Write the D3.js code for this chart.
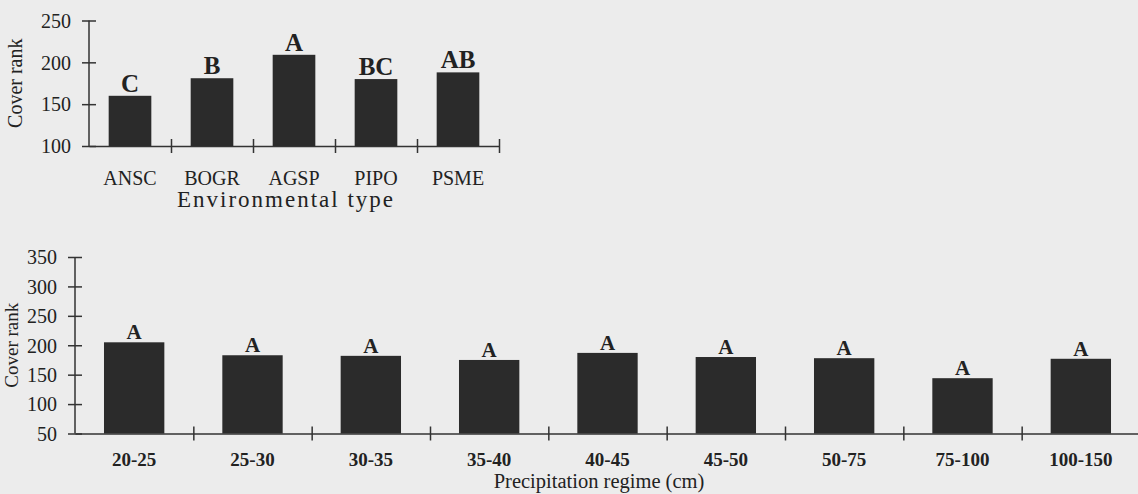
<!DOCTYPE html>
<html>
<head>
<meta charset="utf-8">
<script src="https://cdn.jsdelivr.net/npm/d3@7"></script>
<style>
  body { margin: 0; background: #ececec; }
  svg text { font-family: "Liberation Serif", "Times New Roman", serif; fill: #222; }
  .domain, .tick line { stroke: #333; stroke-width: 1.5; }
</style>
</head>
<body>
<div id="chart"></div>
<script>
// top panel: cover rank by environmental type
var envTypes = ["ANSC", "BOGR", "AGSP", "PIPO", "PSME"];
var envCover = [160, 181, 209, 180, 188];
var envLetters = ["C", "B", "A", "BC", "AB"];
var envTicks = [100, 150, 200, 250];

// bottom panel: cover rank by precipitation regime
var precipRegimes = ["20-25", "25-30", "30-35", "35-40", "40-45", "45-50", "50-75", "75-100", "100-150"];
var precipCover = [205, 183, 182, 175, 187, 180, 178, 144, 177];
var precipLetters = ["A", "A", "A", "A", "A", "A", "A", "A", "A"];
var precipTicks = [50, 100, 150, 200, 250, 300, 350];

var width = 1138, height = 494;

var svg = d3.select("#chart").append("svg")
    .attr("width", width)
    .attr("height", height);

svg.append("rect")
    .attr("width", width)
    .attr("height", height)
    .attr("fill", "#ececec");

drawPanel({
    cats: envTypes, values: envCover, letters: envLetters, ticks: envTicks,
    x0: 89, x1: 499, yTop: 20.5, yBase: 146, domain: [100, 250],
    padInner: 0.48, tickFont: 20, catFont: 20, catWeight: "normal", catY: 39,
    letterFont: 25, letterGap: 4, yLabelX: 22, yLabelFont: 20,
    title: "Environmental type", titleX: 286, titleY: 207, titleFont: 23, titleSpacing: 2
});

drawPanel({
    cats: precipRegimes, values: precipCover, letters: precipLetters, ticks: precipTicks,
    x0: 75, x1: 1140, yTop: 257, yBase: 433.5, domain: [50, 350],
    padInner: 0.49, tickFont: 20, catFont: 19, catWeight: "bold", catY: 32,
    letterFont: 21, letterGap: 3, yLabelX: 18, yLabelFont: 19,
    title: "Precipitation regime (cm)", titleX: 599, titleY: 488, titleFont: 20.5, titleSpacing: 0
});

function drawPanel(p) {
    var x = d3.scaleBand()
        .domain(p.cats)
        .range([p.x0, p.x1])
        .paddingInner(p.padInner)
        .paddingOuter(p.padInner / 2);

    var xEdge = d3.scaleLinear()
        .domain([0, p.cats.length])
        .range([p.x0, p.x1]);

    var y = d3.scaleLinear()
        .domain(p.domain)
        .range([p.yBase, p.yTop]);

    var g = svg.append("g");

    // y axis, ticks cross the line
    var yAxis = g.append("g")
        .attr("transform", "translate(" + p.x0 + ",0)")
        .call(d3.axisLeft(y).tickValues(p.ticks).tickSize(7).tickPadding(11).tickSizeOuter(0));
    yAxis.selectAll(".tick line").attr("x1", 7);
    yAxis.selectAll(".tick text")
        .style("font-size", p.tickFont + "px")
        .attr("dy", "0.34em");
    yAxis.select(".domain").attr("d", "M0," + p.yBase + "V" + p.yTop);

    // x axis boundary ticks
    var xAxis = g.append("g")
        .attr("transform", "translate(0," + p.yBase + ")")
        .call(d3.axisBottom(xEdge).tickValues(d3.range(1, p.cats.length + 1))
            .tickFormat("").tickSize(7).tickSizeOuter(0));
    xAxis.selectAll(".tick line").attr("y1", -7);

    // category labels
    var xLabels = g.append("g")
        .attr("transform", "translate(0," + p.yBase + ")")
        .call(d3.axisBottom(x).tickSize(0).tickPadding(0));
    xLabels.select(".domain").remove();
    xLabels.selectAll(".tick text")
        .attr("y", p.catY)
        .attr("dy", null)
        .style("font-size", p.catFont + "px")
        .style("font-weight", p.catWeight);

    g.selectAll(".bar")
        .data(p.values)
        .enter()
        .append("rect")
        .attr("class", "bar")
        .attr("x", function(d, i) { return x(p.cats[i]); })
        .attr("width", x.bandwidth())
        .attr("y", function(d) { return y(d); })
        .attr("height", function(d) { return p.yBase - y(d); })
        .attr("fill", "#2b2b2b");

    g.selectAll(".letter")
        .data(p.values)
        .enter()
        .append("text")
        .attr("class", "letter")
        .attr("x", function(d, i) { return x(p.cats[i]) + x.bandwidth() / 2; })
        .attr("y", function(d) { return y(d) - p.letterGap; })
        .attr("text-anchor", "middle")
        .style("font-size", p.letterFont + "px")
        .style("font-weight", "bold")
        .text(function(d, i) { return p.letters[i]; });

    g.append("text")
        .attr("transform", "translate(" + p.yLabelX + "," + (p.yBase + p.yTop) / 2 + ") rotate(-90)")
        .attr("text-anchor", "middle")
        .style("font-size", p.yLabelFont + "px")
        .text("Cover rank");

    g.append("text")
        .attr("x", p.titleX)
        .attr("y", p.titleY)
        .attr("text-anchor", "middle")
        .style("font-size", p.titleFont + "px")
        .style("letter-spacing", p.titleSpacing + "px")
        .text(p.title);
}
</script>
</body>
</html>
